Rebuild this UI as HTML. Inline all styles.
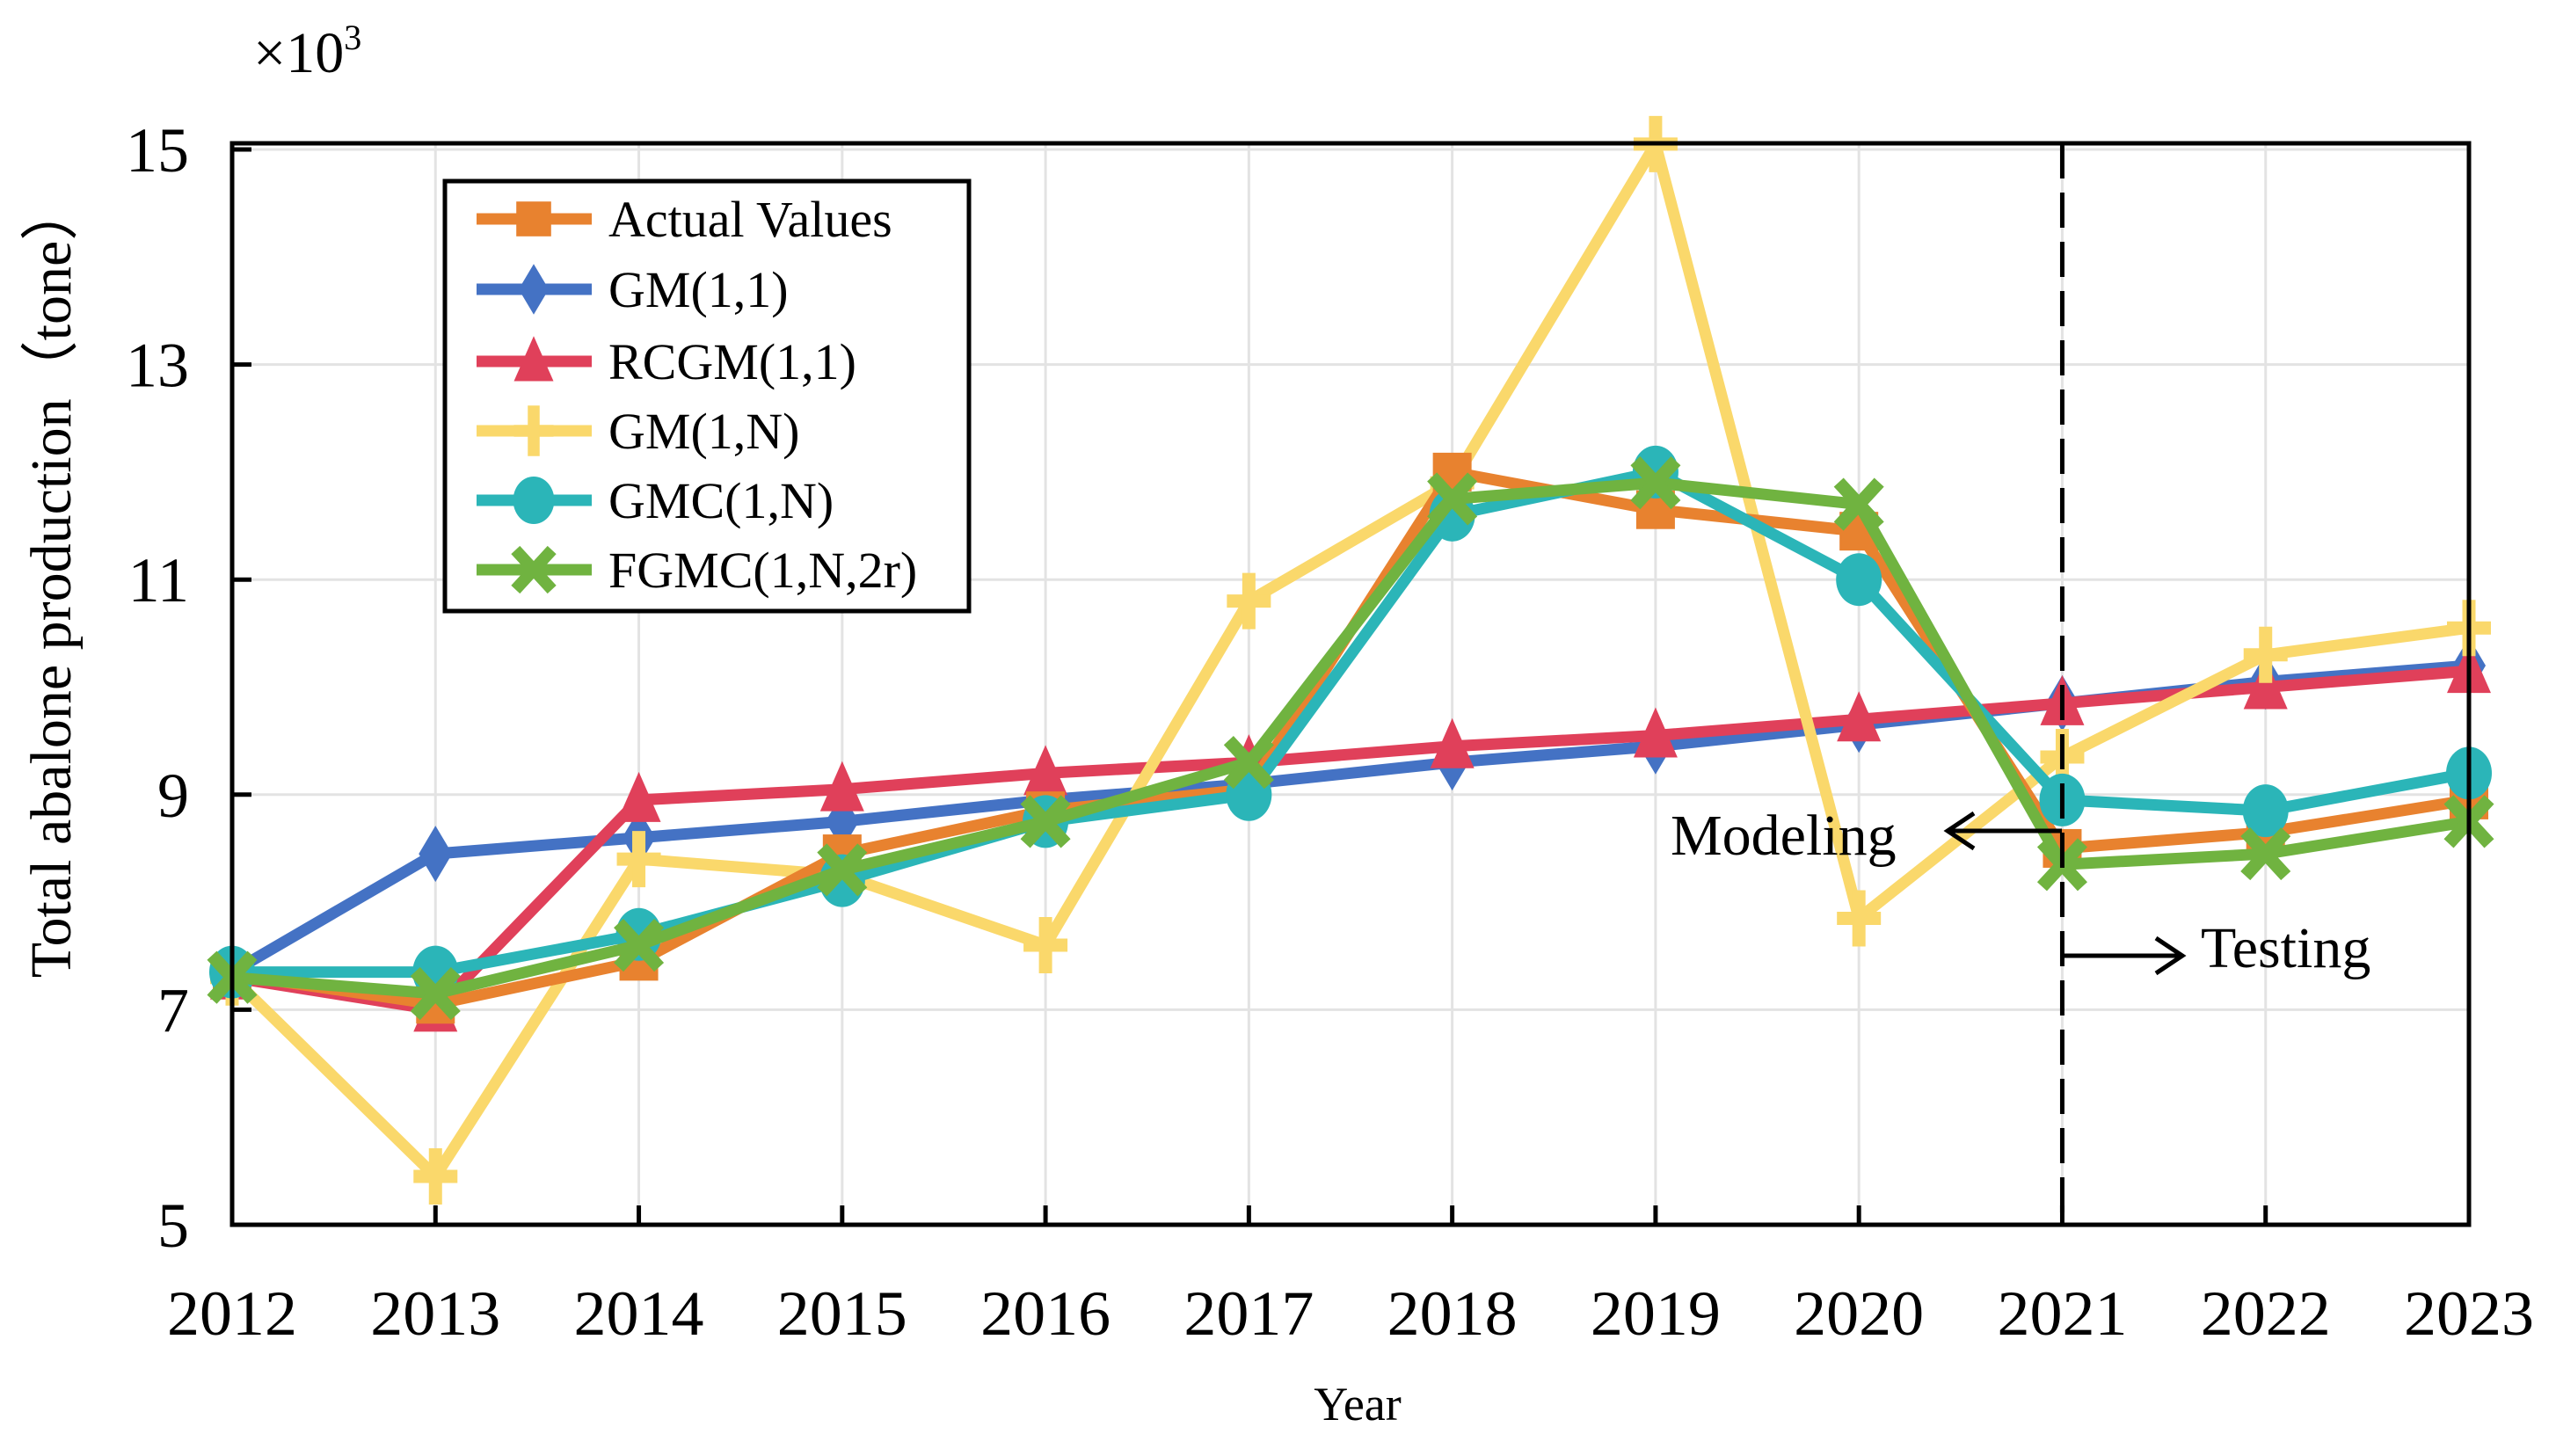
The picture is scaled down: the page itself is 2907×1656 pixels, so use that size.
<!DOCTYPE html>
<html><head><meta charset="utf-8"><style>
html,body{margin:0;padding:0;background:#fff;}
svg{display:block;font-family:"Liberation Serif",serif;}
</style></head><body>
<svg id="chart" width="2907" height="1656" viewBox="0 0 2907 1656" xmlns="http://www.w3.org/2000/svg">
<g id="grid"></g>
<g id="series"></g>
<g id="axes"></g>
<text x="288" y="82" font-size="66">×10<tspan dy="-26" font-size="40">3</tspan></text>
<text transform="translate(80,660) rotate(-90)" text-anchor="middle" font-size="66">Total abalone production（tone）</text>
<text x="1544" y="1615" text-anchor="middle" font-size="54">Year</text>
<g>
<text x="1900" y="972" font-size="66">Modeling</text>
<line x1="2345" y1="945" x2="2215" y2="945" stroke="#000" stroke-width="5"/>
<polyline points="2245,925 2215,945 2245,965" fill="none" stroke="#000" stroke-width="5"/>
</g>
<g>
<text x="2503" y="1100" font-size="66">Testing</text>
<line x1="2345" y1="1087" x2="2482" y2="1087" stroke="#000" stroke-width="5"/>
<polyline points="2452,1067 2482,1087 2452,1107" fill="none" stroke="#000" stroke-width="5"/>
</g>
<g id="legend"></g>
</svg>
<script>
const years = ['2012','2013','2014','2015','2016','2017','2018','2019','2020','2021','2022','2023'];
const yTicks = [5,7,9,11,13,15];
const seriesNames = ['Actual Values','GM(1,1)','RCGM(1,1)','GM(1,N)','GMC(1,N)','FGMC(1,N,2r)'];
const actualValues = [7.33,7.05,7.45,8.45,8.85,9.05,12.0,11.65,11.45,8.5,8.65,8.95];
const gm11 = [7.35,8.45,8.6,8.75,8.95,9.1,9.3,9.45,9.65,9.85,10.05,10.2];
const rcgm11 = [7.3,7.0,8.95,9.05,9.2,9.3,9.45,9.55,9.7,9.85,10.0,10.15];
const gm1n = [7.3,5.45,8.4,8.25,7.6,10.8,11.9,15.05,7.85,9.35,10.3,10.55];
const gmc1n = [7.35,7.35,7.7,8.2,8.75,9.0,11.6,12.0,11.0,8.95,8.85,9.2];
const fgmc = [7.3,7.15,7.6,8.3,8.75,9.3,11.75,11.9,11.7,8.35,8.45,8.75];

const NS='http://www.w3.org/2000/svg';
const L=264,R=2808,T=163,B=1393;
const x=i=>L+i*(R-L)/(years.length-1);
const y=v=>B-(v-5)*(B-170)/10;
function mk(tag,attrs,parent){const e=document.createElementNS(NS,tag);for(const k in attrs)e.setAttribute(k,attrs[k]);parent.appendChild(e);return e;}
const grid=document.getElementById('grid'),axes=document.getElementById('axes'),ser=document.getElementById('series'),leg=document.getElementById('legend');

years.forEach((yr,i)=>{
  const g=mk('line',{x1:x(i),x2:x(i),y1:T,y2:B,stroke:'#e3e3e3','stroke-width':3},grid);
  
  
  const t=mk('line',{x1:x(i),x2:x(i),y1:B,y2:B-22,stroke:'#000','stroke-width':5},axes);
  
  
  const lb=mk('text',{x:x(i),y:1518,'text-anchor':'middle','font-size':72,'textLength':148,'lengthAdjust':'spacingAndGlyphs'},axes);
  lb.textContent=yr;
  
  
});
yTicks.forEach(v=>{
  const g=mk('line',{x1:L,x2:R,y1:y(v),y2:y(v),stroke:'#e3e3e3','stroke-width':3},grid);
  
  
  const t=mk('line',{x1:L,x2:L+22,y1:y(v),y2:y(v),stroke:'#000','stroke-width':5},axes);
  
  
  const lb=mk('text',{x:215,y:y(v)+25,'text-anchor':'end','font-size':72},axes);
  lb.textContent=v;
  
  
});
const fr=mk('rect',{x:L,y:T,width:R-L,height:B-T,fill:'none',stroke:'#000','stroke-width':5},axes);


const dl=mk('line',{x1:x(9),x2:x(9),y1:T,y2:B,stroke:'#000','stroke-width':5,'stroke-dasharray':'40 16'},axes);



const colors=['#e8822f','#4472c4','#e0405a','#fad86b','#2bb5b8','#70b340'];
const shapes=['square','diamond','triangle','plus','circle','xcross'];
const data=[actualValues,gm11,rcgm11,gm1n,gmc1n,fgmc];
function marker(shape,cx,cy,c,p,s){
  s=s||1;let e;
  if(shape==='square')e=mk('rect',{x:cx-22*s,y:cy-22*s,width:44*s,height:44*s,fill:c},p);
  else if(shape==='diamond')e=mk('polygon',{points:`${cx},${cy-32*s} ${cx+19*s},${cy} ${cx},${cy+32*s} ${cx-19*s},${cy}`,fill:c},p);
  else if(shape==='triangle')e=mk('polygon',{points:`${cx},${cy-32*s} ${cx+25*s},${cy+25*s} ${cx-25*s},${cy+25*s}`,fill:c},p);
  else if(shape==='plus')e=mk('path',{d:`M${cx-25*s},${cy}H${cx+25*s}M${cx},${cy-32*s}V${cy+32*s}`,stroke:c,'stroke-width':15*s,fill:'none'},p);
  else if(shape==='circle')e=mk('ellipse',{cx:cx,cy:cy,rx:26*s,ry:30*s,fill:c},p);
  else e=mk('path',{d:`M${cx-23*s},${cy-25*s}L${cx+23*s},${cy+25*s}M${cx+23*s},${cy-25*s}L${cx-23*s},${cy+25*s}`,stroke:c,'stroke-width':15*s,fill:'none'},p);
  return e;
}
const order=[1,2,3,0,4,5];
order.forEach(k=>{
  const g=mk('g',{},ser);
  
  
  const pts=data[k].map((v,i)=>x(i)+','+y(v)).join(' ');
  const pl=mk('polyline',{points:pts,fill:'none',stroke:colors[k],'stroke-width':13,'stroke-linejoin':'round'},g);
  
  
  data[k].forEach((v,i)=>{
    const m=marker(shapes[k],x(i),y(v),colors[k],g);
    
    
  });
});

const lb=mk('rect',{x:506,y:206,width:596,height:489,fill:'#fff',stroke:'#000','stroke-width':5},leg);


const ly=[249,329,411,490,569,648];
seriesNames.forEach((n,k)=>{
  const g=mk('g',{},leg);
  
  
  mk('line',{x1:542,x2:673,y1:ly[k],y2:ly[k],stroke:colors[k],'stroke-width':13},g);
  marker(shapes[k],607,ly[k],colors[k],g,0.9);
  const t=mk('text',{x:692,y:ly[k]+20,'font-size':58},g);
  t.textContent=n;
});
</script>
</body></html>
